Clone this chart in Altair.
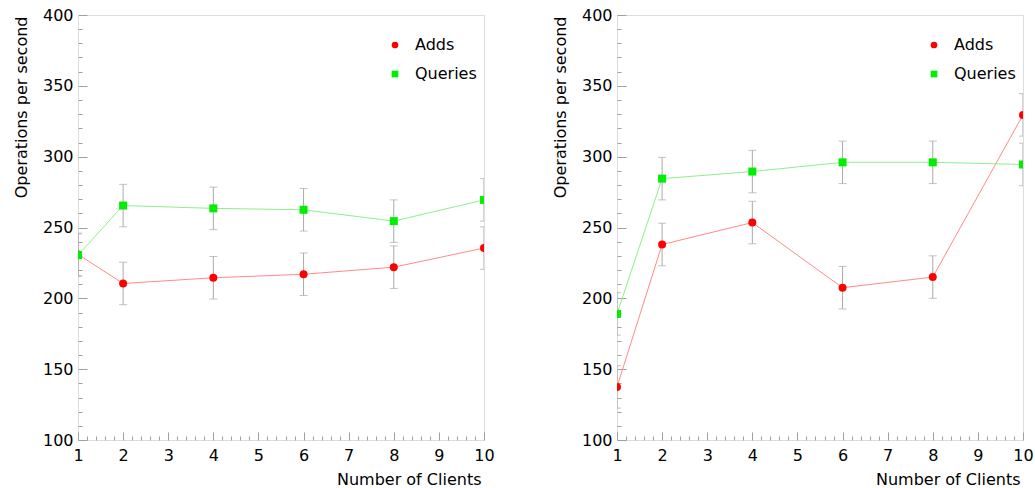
import altair as alt
import pandas as pd

# ---- data ----
clients = [1, 2, 4, 6, 8, 10]

left_adds = [231.0, 210.5, 214.5, 217.0, 222.0, 235.5]
left_adds_err = [15, 15, 15, 15, 15, 15]
left_queries = [230.5, 265.5, 263.5, 262.5, 254.5, 269.5]
left_queries_err = [15, 15, 15, 15, 15, 15]

right_adds = [137.5, 238.0, 253.5, 207.5, 215.0, 329.5]
right_adds_err = [15, 15, 15, 15, 15, 15]
right_queries = [189.0, 284.5, 289.5, 296.0, 296.0, 294.5]
right_queries_err = [15, 15, 15, 15, 15, 15]

series_names = ["Adds", "Queries"]
series_colors = ["#ff0000", "#00ee00"]
series_shapes = ["circle", "square"]

x_labels = [1, 2, 3, 4, 5, 6, 7, 8, 9, 10]
x_ticks = [round(1 + 0.2 * i, 1) for i in range(46)]
y_labels = [100, 150, 200, 250, 300, 350, 400]
y_ticks = list(range(100, 401, 10))

W, H = 406, 425
FONT = "DejaVu Sans"
GRAY = "#a0a0a0"


def make_df(adds, adds_err, queries, queries_err):
    rows = []
    for c, v, e in zip(clients, adds, adds_err):
        rows.append({"clients": c, "series": "Adds", "value": v, "err": e})
    for c, v, e in zip(clients, queries, queries_err):
        rows.append({"clients": c, "series": "Queries", "value": v, "err": e})
    return pd.DataFrame(rows)


x_scale = alt.Scale(domain=[1, 10], nice=False, zero=False)
y_scale = alt.Scale(domain=[100, 400], nice=False, zero=False)

x_axis = alt.Axis(
    orient="bottom", values=x_labels, format="d", ticks=False, domain=False,
    grid=False, labelFont=FONT, labelFontSize=16, labelColor="black",
    labelPadding=7, labelOverlap=False, labelFlush=False,
    title="Number of Clients", titleFont=FONT, titleFontSize=16,
    titleFontWeight="normal", titleColor="black", titleX=W - 3, titleY=39,
    titleAlign="right", titleBaseline="middle",
)
y_axis = alt.Axis(
    orient="left", values=y_labels, ticks=False, domain=False, grid=False,
    labelFont=FONT, labelFontSize=16, labelColor="black", labelPadding=5,
    labelOverlap=False, labelFlush=False,
    title="Operations per second", titleFont=FONT, titleFontSize=16,
    titleFontWeight="normal", titleColor="black", titleX=-57, titleY=1,
    titleAngle=-90, titleAlign="right", titleBaseline="middle",
)

x_tick_axis = alt.Axis(
    orient="top", offset=-H, values=x_ticks, labels=False, domain=False,
    grid=False, title=None, tickColor=GRAY, tickWidth=1,
    tickSize={"condition": {"test": "datum.value % 1 === 0", "value": 8}, "value": 4},
)
y_tick_axis = alt.Axis(
    orient="right", offset=-W, values=y_ticks, labels=False, domain=False,
    grid=False, title=None, tickColor=GRAY, tickWidth=1,
    tickSize={"condition": {"test": "datum.value % 50 === 0", "value": 9}, "value": 4},
)


def legend():
    return alt.Legend(
        orient="none", legendX=309, legendY=22, padding=0, title=None,
        labelFont=FONT, labelFontSize=16, labelColor="black",
        symbolSize=45, symbolStrokeWidth=0, labelOffset=12, rowPadding=13,
    )


def panel(df):
    base = alt.Chart(df).transform_calculate(
        lo="datum.value - datum.err", hi="datum.value + datum.err",
        linecolor="datum.series === 'Adds' ? '#ff8a8a' : '#8cf08c'",
    )
    X = alt.X("clients:Q", scale=x_scale, axis=x_axis)
    Y = alt.Y("value:Q", scale=y_scale, axis=y_axis)

    lines = base.mark_line(strokeWidth=1, clip=True).encode(
        x=X, y=Y, color=alt.Color("linecolor:N", scale=None), detail="series:N"
    )
    bars = base.mark_rule(color="#aaaaaa", strokeWidth=1, clip=True).encode(
        x=X, y=alt.Y("lo:Q", scale=y_scale, axis=y_axis), y2="hi:Q"
    )
    cap_lo = base.mark_tick(orient="horizontal", size=8, thickness=1, color="#aaaaaa", clip=True).encode(
        x=X, y=alt.Y("lo:Q", scale=y_scale, axis=y_axis)
    )
    cap_hi = base.mark_tick(orient="horizontal", size=8, thickness=1, color="#aaaaaa", clip=True).encode(
        x=X, y=alt.Y("hi:Q", scale=y_scale, axis=y_axis)
    )
    points = base.mark_point(filled=True, size=64, opacity=1, clip=True).encode(
        x=X, y=Y,
        color=alt.Color("series:N", scale=alt.Scale(domain=series_names, range=series_colors), legend=legend()),
        shape=alt.Shape("series:N", scale=alt.Scale(domain=series_names, range=series_shapes), legend=legend()),
    )
    main = alt.layer(bars, cap_lo, cap_hi, lines, points)
    ticks = alt.Chart(df).mark_point(opacity=0).encode(
        x=alt.X("clients:Q", scale=x_scale, axis=x_tick_axis),
        y=alt.Y("value:Q", scale=y_scale, axis=y_tick_axis),
    )
    return alt.layer(main, ticks).resolve_axis(x="independent", y="independent").properties(
        width=W, height=H
    )


left = panel(make_df(left_adds, left_adds_err, left_queries, left_queries_err))
right = panel(make_df(right_adds, right_adds_err, right_queries, right_queries_err))

chart = alt.hconcat(left, right, spacing=133, bounds="flush").resolve_scale(
    color="independent", shape="independent"
).resolve_legend(color="independent", shape="independent").properties(
    padding={"left": 12, "top": 6, "right": 0, "bottom": 0},
    background="white",
).configure_view(stroke=GRAY, strokeWidth=1).configure(font=FONT)

chart.save("out.html", embed_options={"renderer": "svg", "actions": False})
